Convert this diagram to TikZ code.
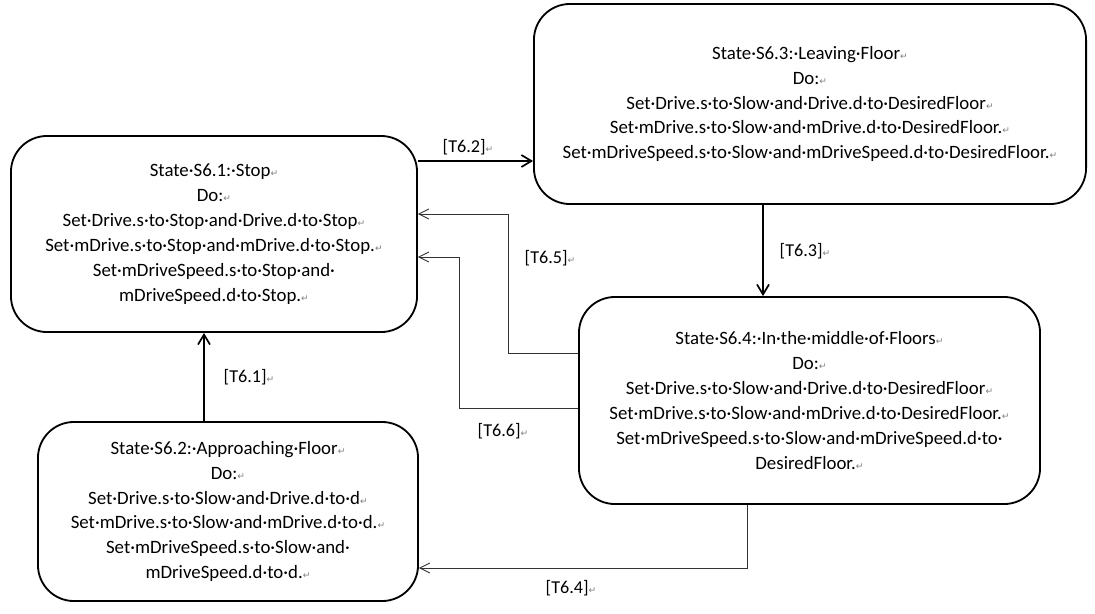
\documentclass[tikz,border=0pt]{standalone}
\usepackage{fontspec}
\setmainfont{Carlito}
\newfontfamily\symfont{DejaVu Sans}
\usepackage{tikz}
\usetikzlibrary{arrows.meta,positioning,calc}

\newcommand{\retmark}{{\symfont\fontsize{6.5}{6.5}\selectfont\color{gray}↵}}

\begin{document}
\begin{tikzpicture}[x=0.025cm, y=-0.025cm,
  state/.style={draw,line width=1.3pt,rounded corners=0.9cm,align=center,
    inner sep=0pt,font=\fontsize{13.4}{17.7}\selectfont},
  lbl/.style={font=\fontsize{12.9}{17.7}\selectfont,inner sep=0pt},
  thk/.style={line width=1.3pt,-{Straight Barb[length=0.25cm,width=0.3cm,line width=1.2pt]}},
  thn/.style={line width=0.6pt,black!80,-{Straight Barb[length=0.25cm,width=0.25cm,line width=0.6pt]}}]
  \useasboundingbox (0,0) rectangle (1095,613);
  %--- states ---
  \node[state,minimum width=10.15cm,minimum height=4.9cm] (s61) at (214,234)
    {State·S6.1:·Stop\retmark\\ Do:\retmark\\
     Set·Drive.s·to·Stop·and·Drive.d·to·Stop\retmark\\
     Set·mDrive.s·to·Stop·and·mDrive.d·to·Stop.\retmark\\
     Set·mDriveSpeed.s·to·Stop·and·\\ mDriveSpeed.d·to·Stop.\retmark};
  \node[state,minimum width=9.5cm,minimum height=4.475cm] (s62) at (228,511.5)
    {State·S6.2:·Approaching·Floor\retmark\\ Do:\retmark\\
     Set·Drive.s·to·Slow·and·Drive.d·to·d\retmark\\
     Set·mDrive.s·to·Slow·and·mDrive.d·to·d.\retmark\\
     Set·mDriveSpeed.s·to·Slow·and·\\ mDriveSpeed.d·to·d.\retmark};
  \node[state,minimum width=13.8cm,minimum height=5cm] (s63) at (810,104)
    {State·S6.3:·Leaving·Floor\retmark\\ Do:\retmark\\
     Set·Drive.s·to·Slow·and·Drive.d·to·DesiredFloor\retmark\\
     Set·mDrive.s·to·Slow·and·mDrive.d·to·DesiredFloor.\retmark\\
     Set·mDriveSpeed.s·to·Slow·and·mDriveSpeed.d·to·DesiredFloor.\retmark};
  \node[state,minimum width=11.525cm,minimum height=5.175cm] (s64) at (809.5,400.5)
    {State·S6.4:·In·the·middle·of·Floors\retmark\\ Do:\retmark\\
     Set·Drive.s·to·Slow·and·Drive.d·to·DesiredFloor\retmark\\
     Set·mDrive.s·to·Slow·and·mDrive.d·to·DesiredFloor.\retmark\\
     Set·mDriveSpeed.s·to·Slow·and·mDriveSpeed.d·to·\\ DesiredFloor.\retmark};
  %--- transitions ---
  \draw[thk] (s62.north -| 204,0) -- (s61.south -| 204,0);
  \draw[thk] (s61.east |- 0,161) -- (s63.west |- 0,161);
  \draw[thk] (s63.south -| 763,0) -- (s64.north -| 763,0);
  \draw[thn] (s64.south -| 747,0) |- (s62.east |- 0,568);
  \draw[thn] (s64.west |- 0,353) -| (508,214) -- (s61.east |- 0,214);
  \draw[thn] (s64.west |- 0,408) -| (459,257) -- (s61.east |- 0,257);
  %--- labels ---
  \node[lbl] (t61) at (249,377) {[T6.1]\retmark};
  \node[lbl] (t62) at (468,147) {[T6.2]\retmark};
  \node[lbl] (t63) at (805,251) {[T6.3]\retmark};
  \node[lbl] (t64) at (571,588) {[T6.4]\retmark};
  \node[lbl] (t65) at (550,258) {[T6.5]\retmark};
  \node[lbl] (t66) at (503,431) {[T6.6]\retmark};
\end{tikzpicture}
\end{document}
